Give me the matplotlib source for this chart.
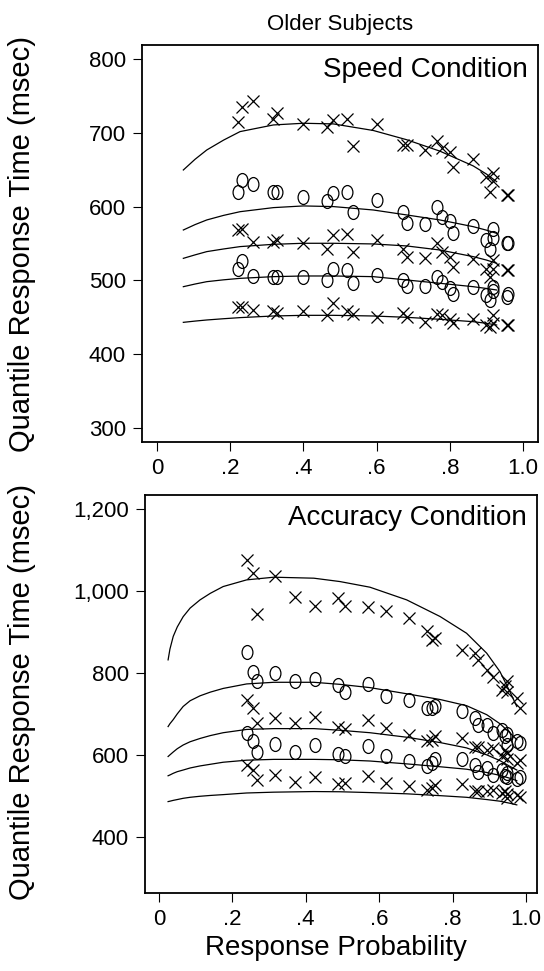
"""Quantile probability functions, older subjects (speed vs accuracy)."""
import numpy as np
import matplotlib
matplotlib.use("Agg")
import matplotlib.pyplot as plt
from matplotlib.path import Path

plt.rcParams['font.family'] = ['Liberation Sans', 'DejaVu Sans']

# ============================================================
# Data
# ============================================================
# --- Speed condition: observed quantiles ---
speed_p = [0.222, 0.231, 0.263, 0.318, 0.327, 0.400, 0.464, 0.482, 0.518, 0.536,
           0.600, 0.673, 0.682, 0.732, 0.764, 0.778, 0.800, 0.809, 0.864, 0.900,
           0.910, 0.919, 0.919, 0.955, 0.960]
speed_q9 = [715, 735, 743, 718, 727, 712, 708, 717, 719, 682, 712, 683, 684, 677, 689,
            679, 674, 653, 665, 640, 620, 645, 634, 616, 616]
speed_q7 = [620, 636, 631, 619, 619, 613, 607, 618, 619, 593, 609, 593, 578, 576, 600,
            586, 580, 564, 574, 555, 543, 570, 557, 550, 550]
speed_q5 = [568, 570, 552, 552, 555, 551, 543, 561, 563, 539, 555, 542, 531, 530, 551,
            539, 532, 518, 529, 516, 505, 528, 516, 514, 514]
speed_q3 = [515, 526, 506, 505, 505, 505, 501, 516, 514, 497, 507, 500, 492, 492, 505,
            498, 489, 482, 491, 480, 473, 491, 485, 478, 482]
speed_q1 = [464, 464, 460, 458, 456, 459, 453, 469, 458, 455, 450, 456, 450, 443, 455,
            453, 448, 442, 448, 440, 437, 453, 442, 440, 440]

# --- Speed condition: model curves ---
speed_fit_p = [0.072, 0.104, 0.136, 0.182, 0.227, 0.318, 0.400, 0.482, 0.591, 0.682,
               0.773, 0.864, 0.900, 0.928]
speed_fit_q9 = [649.5, 664, 676.6, 690, 701.5, 710.5, 712.8, 711.9, 703, 690.5, 675, 655, 644, 633.7]
speed_fit_q7 = [568.2, 575.5, 581.8, 588, 593, 598.5, 600.8, 599.9, 595.3, 588.6, 581.8, 572.7, 568, 563.7]
speed_fit_q5 = [529.8, 534.5, 538.9, 542.5, 545.7, 548.8, 550.2, 550.2, 549.3, 546.6, 541.1, 532.1, 527.5, 523.1]
speed_fit_q3 = [491.4, 495, 498.2, 500.7, 502.7, 505, 505.9, 505.9, 505, 500.5, 496, 491.4, 489, 486.9]
speed_fit_q1 = [443.1, 444.8, 446.3, 448, 449.5, 451.7, 452.6, 452.6, 451.7, 449.9, 447.2, 444, 441.8, 439.5]

# --- Accuracy condition: observed quantiles ---
acc_p = [0.239, 0.255, 0.266, 0.316, 0.371, 0.425, 0.489, 0.507, 0.569, 0.620,
         0.680, 0.729, 0.743, 0.752, 0.827, 0.861, 0.870, 0.893, 0.911, 0.934,
         0.943, 0.947, 0.947, 0.975, 0.984]
acc_q9 = [1076, 1043, 944, 1037, 986, 962, 982, 962, 960, 950, 935, 901, 881, 885, 856,
          848, 832, 807, 791, 759, 767, 779, 754, 738, 714]
acc_q7 = [852, 803, 779, 799, 779, 785, 771, 754, 773, 744, 734, 714, 714, 718, 708,
          689, 673, 673, 653, 661, 645, 624, 650, 635, 628]
acc_q5 = [734, 714, 677, 689, 677, 692, 668, 663, 685, 665, 649, 633, 636, 645, 641,
          620, 620, 612, 616, 596, 612, 604, 590, 581, 588]
acc_q3 = [653, 633, 608, 627, 606, 624, 602, 596, 622, 598, 586, 572, 580, 589, 589,
          576, 559, 568, 551, 563, 549, 555, 545, 541, 547]
acc_q1 = [576, 563, 539, 551, 533, 547, 529, 531, 549, 531, 524, 515, 520, 527, 529,
          511, 511, 511, 515, 507, 511, 494, 505, 502, 498]

# --- Accuracy condition: model curves ---
acc_fit_p = [0.025, 0.030, 0.039, 0.050, 0.066, 0.085, 0.112, 0.140, 0.175, 0.239,
             0.313, 0.422, 0.493, 0.575, 0.675, 0.766, 0.838, 0.893, 0.929, 0.956, 0.975]
acc_fit_q9 = [831.7, 858, 889, 912, 937, 958, 978, 994, 1010.5, 1026.8, 1033.3, 1030.9,
              1022.7, 1008.9, 978, 937.4, 896.7, 848, 803.2, 754.4, 717.9]
acc_fit_q7 = [669, 676, 686, 700, 718, 732, 744, 753, 762, 773, 777, 777, 772, 764, 749,
              735, 720, 698, 676, 654, 637]
acc_fit_q5 = [596, 600, 607, 615, 624, 632, 640, 647, 654, 662, 664, 664, 660, 654, 643,
              630, 617, 600, 586, 572, 563]
acc_fit_q3 = [549, 551, 555, 559, 563, 568, 573, 577, 582, 587, 589, 589, 588, 585, 578,
              571, 565, 557, 550, 543, 537]
acc_fit_q1 = [486, 487, 489, 491, 494, 496.5, 499, 501, 503, 507, 509, 510.5, 510, 508,
              505, 500.5, 496.5, 491, 487, 482, 478]

x_ticks = [0, 0.2, 0.4, 0.6, 0.8, 1.0]
x_ticklabels = ['0', '.2', '.4', '.6', '.8', '1.0']
speed_yticks = [300, 400, 500, 600, 700, 800]
speed_yticklabels = ['300', '400', '500', '600', '700', '800']
acc_yticks = [400, 600, 800, 1000, 1200]
acc_yticklabels = ['400', '600', '800', '1,000', '1,200']

# ============================================================
# Plot
# ============================================================
# oval "O" marker (taller than wide, like the letter)
circ = Path.unit_circle()
oval = Path(circ.vertices * np.array([0.78, 1.0]), circ.codes)


def draw_panel(ax, p, obs, fit_p, fits):
    for f in fits:
        ax.plot(fit_p, f, color='black', linewidth=0.9, zorder=2)
    for i, q in enumerate(obs):
        if i % 2 == 0:
            ax.plot(p, q, linestyle='none', marker='x', markersize=8.5,
                    markeredgewidth=0.9, color='black', zorder=3)
        else:
            ax.plot(p, q, linestyle='none', marker=oval, markersize=10,
                    markerfacecolor='none', markeredgewidth=0.9, color='black', zorder=3)
    for s in ax.spines.values():
        s.set_linewidth(1.3)
    ax.tick_params(direction='out', length=6.5, width=0.8, labelsize=16, pad=5)
    ax.set_xticks(x_ticks)
    ax.set_xticklabels(x_ticklabels)


fig = plt.figure(figsize=(5.44, 9.71), dpi=100)

ax1 = fig.add_axes([0.261, 0.5448, 0.728, 0.409])
draw_panel(ax1, speed_p, [speed_q1, speed_q3, speed_q5, speed_q7, speed_q9],
           speed_fit_p, [speed_fit_q1, speed_fit_q3, speed_fit_q5, speed_fit_q7, speed_fit_q9])
ax1.set_xlim(-0.041, 1.041)
ax1.set_ylim(281, 819)
ax1.set_yticks(speed_yticks)
ax1.set_yticklabels(speed_yticklabels)
ax1.text(0.975, 0.919, 'Speed Condition', transform=ax1.transAxes, ha='right',
         va='baseline', fontsize=20)

ax2 = fig.add_axes([0.2665, 0.0803, 0.7206, 0.410])
draw_panel(ax2, acc_p, [acc_q1, acc_q3, acc_q5, acc_q7, acc_q9],
           acc_fit_p, [acc_fit_q1, acc_fit_q3, acc_fit_q5, acc_fit_q7, acc_fit_q9])
ax2.set_xlim(-0.038, 1.030)
ax2.set_ylim(263, 1234)
ax2.set_yticks(acc_yticks)
ax2.set_yticklabels(acc_yticklabels)
ax2.text(0.975, 0.9246, 'Accuracy Condition', transform=ax2.transAxes, ha='right',
         va='baseline', fontsize=20)

fig.text(0.625, 0.969, 'Older Subjects', ha='center', va='baseline', fontsize=16)
fig.text(0.040, 0.749, 'Quantile Response Time (msec)', rotation=90,
         ha='center', va='center', fontsize=21)
fig.text(0.040, 0.287, 'Quantile Response Time (msec)', rotation=90,
         ha='center', va='center', fontsize=21)
fig.text(0.618, 0.0165, 'Response Probability', ha='center', va='baseline', fontsize=20)

fig.savefig('out.png', dpi=100)
